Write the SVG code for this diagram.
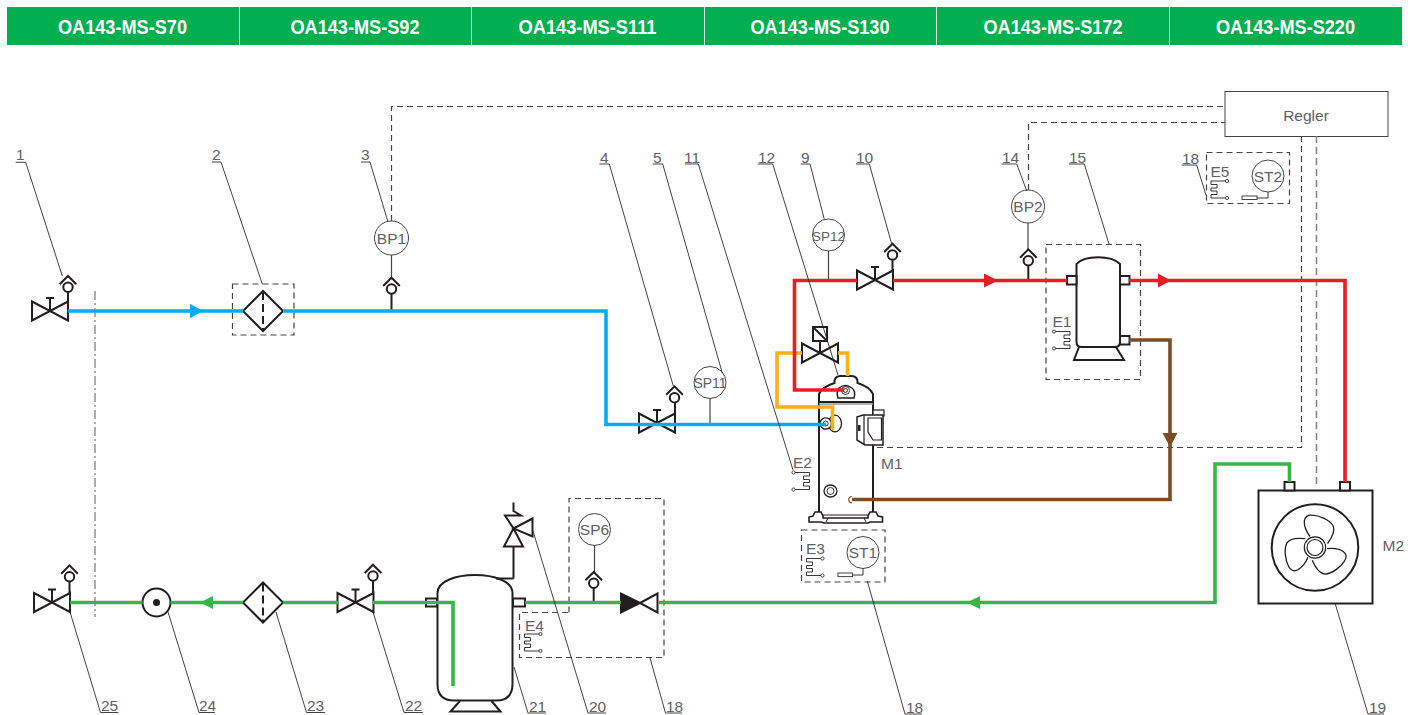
<svg xmlns="http://www.w3.org/2000/svg" width="1408" height="715" viewBox="0 0 1408 715">
<style>
.hdr{font:bold 21px "Liberation Sans",sans-serif;fill:#fff;text-anchor:middle}
.t{font:15.5px "Liberation Sans",sans-serif;fill:#616264}
.c{text-anchor:middle}
.s{fill:#fff;stroke:#231f20;stroke-width:2}
.n{fill:none;stroke:#231f20;stroke-width:2}
.thin{fill:none;stroke:#231f20;stroke-width:.9}
.lead{fill:none;stroke:#231f20;stroke-width:.85}
.dash{fill:none;stroke:#444;stroke-width:1.2;stroke-dasharray:6 4}
.dg{fill:none;stroke:#808285;stroke-width:1.5;stroke-dasharray:7 4}
.sens{fill:#fff;stroke:#444;stroke-width:1}
.stem{stroke:#444;stroke-width:1.2}
.pipe{fill:none;stroke-width:3.6;stroke-linejoin:miter}
.blue{stroke:#00aeef}.red{stroke:#ed1c24}.green{stroke:#39b54a}.brown{stroke:#7a4d25}.orange{stroke:#fbb017}
</style>
<defs>
<g id="valve"><path class="s" d="M-18,-9.500V9.500L18,-9.500V9.500Z"/><path class="n" d="M0,0V-13M-4,-13H4"/></g>
<g id="port"><circle class="s" cx="0" cy="0" r="4.700"/><path class="n" d="M-8.300,-3L0,-11.300L8.300,-3"/></g>
<g id="filter"><path class="s" d="M-20,0L0,-20L20,0L0,20Z"/><path fill="none" stroke="#231f20" stroke-width="2" stroke-dasharray="8 4" d="M0,-19V19"/></g>
<g id="heatL"><path class="thin" d="M0,0H16V3.500H10V7H16V10H10V13.500H16V17H0"/><circle class="sens" cx="0" cy="0" r="1.600"/><circle class="sens" cx="0" cy="17" r="1.600"/></g>
<g id="heatR"><path class="thin" d="M0,0H-16V3.500H-10V7H-16V10H-10V13.500H-16V17H0"/><circle class="sens" cx="0" cy="0" r="1.600"/><circle class="sens" cx="0" cy="17" r="1.600"/></g>
<path id="blade" fill="none" stroke="#231f20" stroke-width="1.300" d="M-5,-11C-8,-15 -11,-20 -10.700,-26C-10.500,-31 -7,-32.600 -3,-32.300C4,-32 14,-28 18,-22C20.500,-17 17,-10 12.500,-4"/>
</defs>

<g id="header">
<rect x="7" y="7" width="1395" height="38" fill="#00b050"/>
<path d="M239.500,7V45M471.500,7V45M704.500,7V45M936.500,7V45M1169.500,7V45" stroke="#d9f0e2" stroke-width="1"/>
<text class="hdr" x="122.500" y="34" textLength="129" lengthAdjust="spacingAndGlyphs">OA143-MS-S70</text>
<text class="hdr" x="355" y="34" textLength="129" lengthAdjust="spacingAndGlyphs">OA143-MS-S92</text>
<text class="hdr" x="587.500" y="34" textLength="138" lengthAdjust="spacingAndGlyphs">OA143-MS-S111</text>
<text class="hdr" x="820" y="34" textLength="139" lengthAdjust="spacingAndGlyphs">OA143-MS-S130</text>
<text class="hdr" x="1053" y="34" textLength="139" lengthAdjust="spacingAndGlyphs">OA143-MS-S172</text>
<text class="hdr" x="1285.500" y="34" textLength="139" lengthAdjust="spacingAndGlyphs">OA143-MS-S220</text>
</g>

<g id="n1"><use href="#valve" x="50" y="311"/><path class="n" d="M68,292V303"/><use href="#port" x="68" y="287.300"/></g>
<g id="n2"><rect class="dash" x="232.500" y="284" width="61.500" height="51"/><use href="#filter" x="263" y="311"/></g>
<g id="n3"><circle class="sens" cx="391.500" cy="238" r="17"/><path class="stem" d="M391.500,255V278"/><path class="n" d="M391.500,293V311"/><use href="#port" x="391.500" y="289"/><text class="t c" x="391.500" y="244">BP1</text></g>
<g id="n4"><use href="#valve" x="657" y="423"/><path class="n" d="M675,402V414"/><use href="#port" x="674.500" y="397.700"/></g>
<g id="n5"><circle class="sens" cx="710" cy="382.500" r="16"/><path class="stem" d="M710,398.500V424"/><text class="t c" x="710" y="388" style="font-size:14px">SP11</text></g>
<g id="n9"><circle class="sens" cx="828.500" cy="235" r="16"/><path class="stem" d="M828.500,251V280"/><text class="t c" x="828.500" y="240.500" style="font-size:13.500px">SP12</text></g>
<g id="n10"><use href="#valve" x="875" y="280"/><path class="n" d="M892.500,260V271"/><use href="#port" x="892.500" y="255"/></g>
<g id="n12"><path class="s" d="M802,343.500V362.500L838,343.500V362.500Z"/><path class="n" d="M820,353V341"/><rect class="s" x="813" y="327" width="14" height="14"/><path class="n" d="M813,327L827,341"/></g>
<g id="n14"><circle class="sens" cx="1028" cy="206.500" r="16.500"/><path class="stem" d="M1028,223V250"/><path class="n" d="M1028.300,265V280"/><use href="#port" x="1028.300" y="260.700"/><text class="t c" x="1028" y="212">BP2</text></g>
<g id="n15"><rect class="dash" x="1046" y="244.500" width="94.500" height="135"/>
<path class="s" d="M1076.500,264C1085,255 1111,255 1120,264V342Q1120,347 1115,347H1081.500Q1076.500,347 1076.500,342Z"/>
<path class="n" d="M1079,347L1074,360H1124L1116,347"/>
<rect class="s" x="1067" y="276" width="9.500" height="8.500"/><rect class="s" x="1120" y="276" width="9.500" height="8.500"/><rect class="s" x="1120" y="336" width="9.500" height="8.500"/>
<text class="t" x="1052.500" y="327">E1</text><use href="#heatL" x="1054" y="331.500"/></g>
<g id="n18a"><rect class="dash" x="1206.500" y="152.500" width="83" height="51"/><text class="t" x="1210.500" y="177">E5</text><use href="#heatR" x="1227" y="181"/>
<circle class="sens" cx="1268" cy="176" r="16"/><path class="thin" d="M1268,192V198H1257"/><rect class="sens" x="1242" y="196" width="15" height="3.500"/><text class="t c" x="1268" y="181.500">ST2</text></g>
<g id="regler"><rect x="1225" y="91.500" width="163" height="45" fill="#fff" stroke="#444" stroke-width="1"/><text class="t c" x="1306" y="120.500">Regler</text></g>

<g id="m1">
<path class="n" d="M819,402V512M873,402V512"/>
<path class="s" d="M819,402V394Q822,387 834.500,383Q834,376.500 840,376H852Q858,376.500 857.500,383Q870,387 873,394V402Z"/>
<path class="n" d="M838,398Q836,391 839,388Q845.500,383 852,388Q856,391 854,398Z" style="stroke-width:1.500"/>
<path d="M819,404H873" stroke="#999" stroke-width="1.300"/>
<circle class="thin" cx="845.500" cy="390.500" r="4"/><circle class="thin" cx="845.500" cy="390.500" r="2"/>
<ellipse class="n" cx="835" cy="423.500" rx="6.500" ry="8.300" style="stroke-width:1.300"/>
<circle class="n" cx="825.700" cy="423.500" r="5.700" style="stroke-width:1.300;fill:#fff"/>
<circle class="thin" cx="825.700" cy="423.500" r="2.500"/>
<rect class="s" x="873" y="410" width="11" height="6" style="stroke-width:1.200"/>
<path class="s" d="M857,417L863,415H883V445H865L857,440Z" style="stroke-width:1.500"/>
<path class="n" d="M864,415V444" style="stroke-width:1.200"/>
<path class="n" d="M868,418H881.500V440H873L868,432Z" style="stroke-width:1.200"/>
<rect x="858" y="425" width="2.500" height="6" fill="#231f20"/>
<ellipse class="n" cx="830.500" cy="491" rx="6.500" ry="6" style="stroke-width:1.300"/><ellipse class="thin" cx="830.500" cy="491" rx="3.500" ry="3.500"/>
<path class="s" d="M809,522V517L813,516L815,512H821L823,516V518H868V516L870,512H876L878,516L882.500,517V522H870L868,523H824L821,522Z" style="stroke-width:1.600"/>
<path class="n" d="M823,515H868M828,518L826,522M864,518L866,522" style="stroke-width:1"/>
<text class="t" x="881" y="469">M1</text>
</g>
<g id="e2"><text class="t" x="793" y="468">E2</text><use href="#heatL" x="793.500" y="472.500"/></g>
<g id="n18b"><rect class="dash" x="801.500" y="530" width="83.500" height="52"/><text class="t" x="806" y="554">E3</text><use href="#heatR" x="822.500" y="558.500"/>
<circle class="sens" cx="863" cy="552.500" r="16"/><path class="thin" d="M863,568.500V575H852.500"/><rect class="sens" x="838" y="573" width="14.500" height="3.600"/><text class="t c" x="863" y="558">ST1</text></g>

<g id="n19"><rect class="s" x="1258.500" y="490.500" width="114" height="113"/>
<rect class="s" x="1284.500" y="482" width="10" height="8.500"/><rect class="s" x="1340" y="482" width="10" height="8.500"/>
<circle class="n" cx="1315" cy="547.500" r="43.300"/><circle cx="1315" cy="547.500" r="10.700" fill="none" stroke="#231f20" stroke-width="1.200"/><circle cx="1315" cy="547.500" r="8" fill="none" stroke="#231f20" stroke-width="1.200"/>
<use href="#blade" transform="translate(1315 547.500)"/><use href="#blade" transform="translate(1315 547.500) rotate(120)"/><use href="#blade" transform="translate(1315 547.500) rotate(240)"/>
<text class="t" x="1382.500" y="551">M2</text></g>

<g id="n18c"><path class="dash" d="M569,612.500V498.500H664V657.500H519.500V612.500H569"/>
<circle class="sens" cx="594.500" cy="529.500" r="16"/><path class="stem" d="M594.500,545.500V573"/><path class="n" d="M593.700,588V602"/><use href="#port" x="593.700" y="583.300"/><text class="t c" x="594.500" y="535">SP6</text>
<path class="s" d="M640,603L657.500,593.500V612.500Z"/><path fill="#231f20" stroke="#231f20" stroke-width="2" d="M640,603L621,593.500V612.500Z"/>
<text class="t" x="525" y="630.500">E4</text><use href="#heatR" x="540.500" y="634"/></g>

<g id="n20"><path class="n" d="M513.500,578.500V546.500"/><path class="s" d="M513.500,528.500L504,546.500H523ZM513.500,528.500L532.500,518.500V536.500Z"/><path class="n" d="M513.500,502.500V511L521,515.500H505L513.500,528.500"/></g>
<g id="n21"><path class="n" d="M496,578.500H513.500"/>
<path class="n" d="M437.500,593C437.500,569 512.500,569 512.500,593V684Q512.500,700.500 496,700.500H454Q437.500,700.500 437.500,684Z"/>
<path class="n" d="M460,701L450.500,711.500H500.500L491.500,701"/>
<rect x="426" y="598.500" width="11" height="8" fill="none" stroke="#231f20" stroke-width="2"/>
<rect class="s" x="513" y="598.500" width="12" height="8"/></g>

<g id="n22"><use href="#valve" x="355.500" y="602.500"/><path class="n" d="M373,581V593"/><use href="#port" x="373" y="576"/></g>
<g id="n23"><use href="#filter" x="263" y="602.500"/></g>
<g id="n24"><circle class="s" cx="156.500" cy="602.500" r="14"/><circle cx="156.500" cy="602.500" r="3.500" fill="#231f20"/></g>
<g id="n25"><use href="#valve" x="52" y="602.500"/><path class="n" d="M69.500,581V594"/><use href="#port" x="69.500" y="576.700"/></g>

<g id="connectors">
<path class="dash" d="M391.500,221V106.500H1225M1028.500,190V122.500H1225"/>
<path class="dash" d="M1301.500,136V447.500H873"/>
<path class="dg" d="M1316.500,136V488"/>
<path class="pipe orange" d="M802,353H777V407H832.500V430M838,353H847.500V376"/>
<path class="pipe blue" d="M68,311H243M283,311H606V424.500H826"/>
<path class="pipe red" d="M844,390H794.500V280.500H857M893,280.500H1067M1129,280.500H1345V482"/>
<path class="pipe brown" d="M1129,340H1170V499.500H852"/>
<path class="pipe green" d="M70,602.500H142.500M170.500,602.500H243M283,602.500H338M373,602.500H453V686M525,602.500H621M658,602.500H1215V464H1289.500V482"/>
<path fill="none" stroke="#808285" stroke-width="1.300" stroke-dasharray="9 3 2 3" d="M95,291V617"/>
<path fill="#00aeef" d="M190,303.700L203,311L190,318.300Z"/>
<path fill="#ed1c24" d="M984,273.500L998,280.500L984,287.500Z"/>
<path fill="#ed1c24" d="M1158,273.500L1171,280.500L1158,287.500Z"/>
<path fill="#7a4d25" d="M1162.500,433H1177.500L1170,447Z"/>
<path fill="#39b54a" d="M213,596V609L200,602.500Z"/>
<path fill="#39b54a" d="M980,596V609L967,602.500Z"/>
<path fill="none" stroke="#7a4d25" stroke-width="1.200" d="M852,496.500A3,3 0 0 0 852,503"/>
</g>

<g id="labels">
<path class="lead" d="M15.700,162.300H25.700L62.300,276M212,162H221L262.300,284M361,162H370L388,222"/>
<path class="lead" d="M599.300,164H609.300L673.300,386M652.700,164H662.700L722.300,373M685,164H698.300L793,470M757.700,164H772.700L838,375M800.700,164H810L824.300,219.300M856,164H869.300L891.700,244M1001.700,164H1016.700L1026.700,190.700M1069,164H1084.300L1109,244M1181.700,165H1196.700L1206,195"/>
<path class="lead" d="M70,612L100.500,712.500H118.500M168,612L199,712.500H215M276,612L306.500,712.500H325M373,612L404,712.500H423M514,667L528,713H546M533,531L588,713H606M650,658L665.500,713H682M867.300,581L905,714H922M1335,603L1368,714H1384"/>
<text class="t" x="16" y="160">1</text><text class="t" x="212" y="160">2</text><text class="t" x="361" y="160">3</text><text class="t" x="600" y="162.500">4</text><text class="t" x="653" y="162.500">5</text><text class="t" x="684" y="162.500">11</text><text class="t" x="758" y="162.500">12</text><text class="t" x="801" y="162.500">9</text><text class="t" x="856" y="162.500">10</text><text class="t" x="1002" y="162.500">14</text><text class="t" x="1069" y="162.500">15</text><text class="t" x="1182" y="163.500">18</text>
<text class="t" x="101" y="711">25</text><text class="t" x="199" y="711">24</text><text class="t" x="307" y="711">23</text><text class="t" x="405" y="711">22</text><text class="t" x="529" y="711.500">21</text><text class="t" x="589" y="711.500">20</text><text class="t" x="666" y="711.500">18</text><text class="t" x="906" y="712.500">18</text><text class="t" x="1369" y="712.500">19</text>
</g>
</svg>
